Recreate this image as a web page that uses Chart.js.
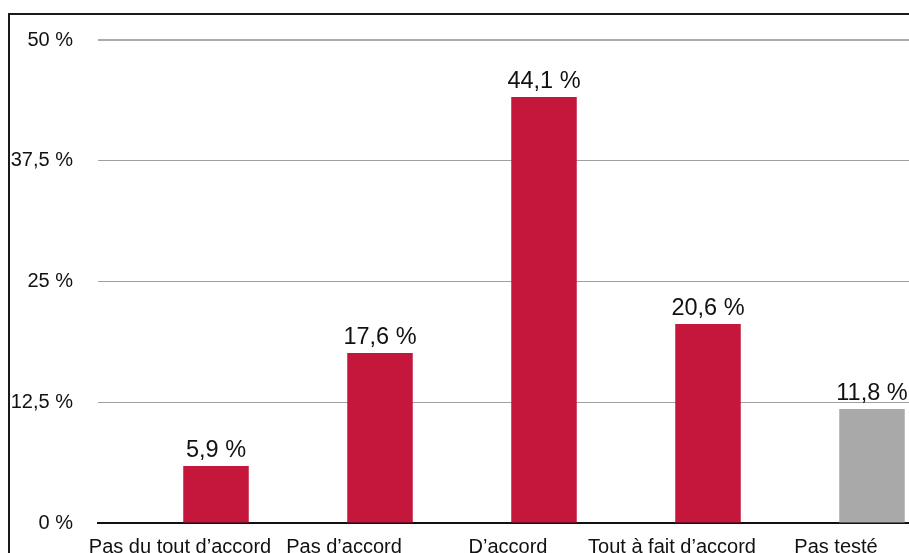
<!DOCTYPE html>
<html>
<head>
<meta charset="utf-8">
<script src="https://cdn.jsdelivr.net/npm/chart.js@4"></script>
<style>
  html, body { margin: 0; padding: 0; background: #fff; overflow: hidden; }
  #frame {
    position: absolute; left: 8px; top: 13px; width: 920px; height: 560px;
    border-top: 2px solid #1a1a1a; border-left: 2px solid #1a1a1a;
  }
  #myChart { position: absolute; left: 0; top: 0; }
</style>
</head>
<body>
<div id="frame"></div>
<canvas id="myChart" width="920" height="580"></canvas>
<script>
// data
const categories = ['Pas du tout d\u2019accord', 'Pas d\u2019accord', 'D\u2019accord', 'Tout \u00e0 fait d\u2019accord', 'Pas test\u00e9'];
const emptySeries = [null, null, null, null, null];
const percents = [5.9, 17.6, 44.1, 20.6, 11.8];
const barColors = ['#c4173b', '#c4173b', '#c4173b', '#c4173b', '#a9a9a9'];
const yTicks = [0, 12.5, 25, 37.5, 50];
const yTickLabels = ['0 %', '12,5 %', '25 %', '37,5 %', '50 %'];

const fontFam = '"Liberation Sans", Arial, Helvetica, sans-serif'

function fmt(v) {
    return v.toFixed(1).replace('.', ',') + ' %'
}

const valueLabels = {
    id: 'valueLabels',
    afterDatasetsDraw(chart) {
        const ctx = chart.ctx
        const meta = chart.getDatasetMeta(1)
        ctx.save()
        ctx.font = '23.5px ' + fontFam
        ctx.fillStyle = '#111'
        ctx.textAlign = 'center'
        ctx.textBaseline = 'alphabetic'
        meta.data.forEach((bar, i) => {
            ctx.fillText(fmt(percents[i]), bar.x, bar.y - 9)
        })
        ctx.restore()
    }
}

const ctx = document.getElementById('myChart');

const myChart = new Chart(ctx, {
    type: 'bar',
    data: {
        labels: categories,
        datasets: [{
            data: emptySeries,
            backgroundColor: 'transparent'
        }, {
            data: percents,
            backgroundColor: barColors,
            borderWidth: 0
        }]
    },
    options: {
        responsive: false,
        animation: false,
        categoryPercentage: 0.878,
        barPercentage: 0.91,
        layout: { padding: { top: 40, left: 0, right: 2, bottom: 0 } },
        plugins: {
            legend: { display: false },
            tooltip: { enabled: false }
        },
        scales: {
            x: {
                grid: { display: false, drawTicks: false },
                border: { display: true, color: '#111', width: 2 },
                ticks: {
                    autoSkip: false,
                    maxRotation: 0,
                    padding: 12,
                    color: '#111',
                    font: { family: fontFam, size: 20 }
                },
                afterFit: (scale) => {
                    scale.height = 57
                    scale.paddingLeft = 0
                    scale.paddingRight = 0
                }
            },
            y: {
                min: 0,
                max: 50,
                afterBuildTicks: (scale) => { scale.ticks = yTicks.map(v => ({value: v})) },
                grid: {
                    drawTicks: false,
                    color: (c) => c.index === yTicks.length - 1 ? '#ababab' : '#a0a0a0',
                    lineWidth: (c) => c.index === yTicks.length - 1 ? 2 : 1
                },
                border: { display: false },
                ticks: {
                    padding: 25,
                    color: '#111',
                    font: { family: fontFam, size: 20 },
                    callback: (v, i) => yTickLabels[i]
                },
                afterFit: (scale) => { scale.width = 98 }
            }
        }
    },
    plugins: [valueLabels]
});
</script>
</body>
</html>
